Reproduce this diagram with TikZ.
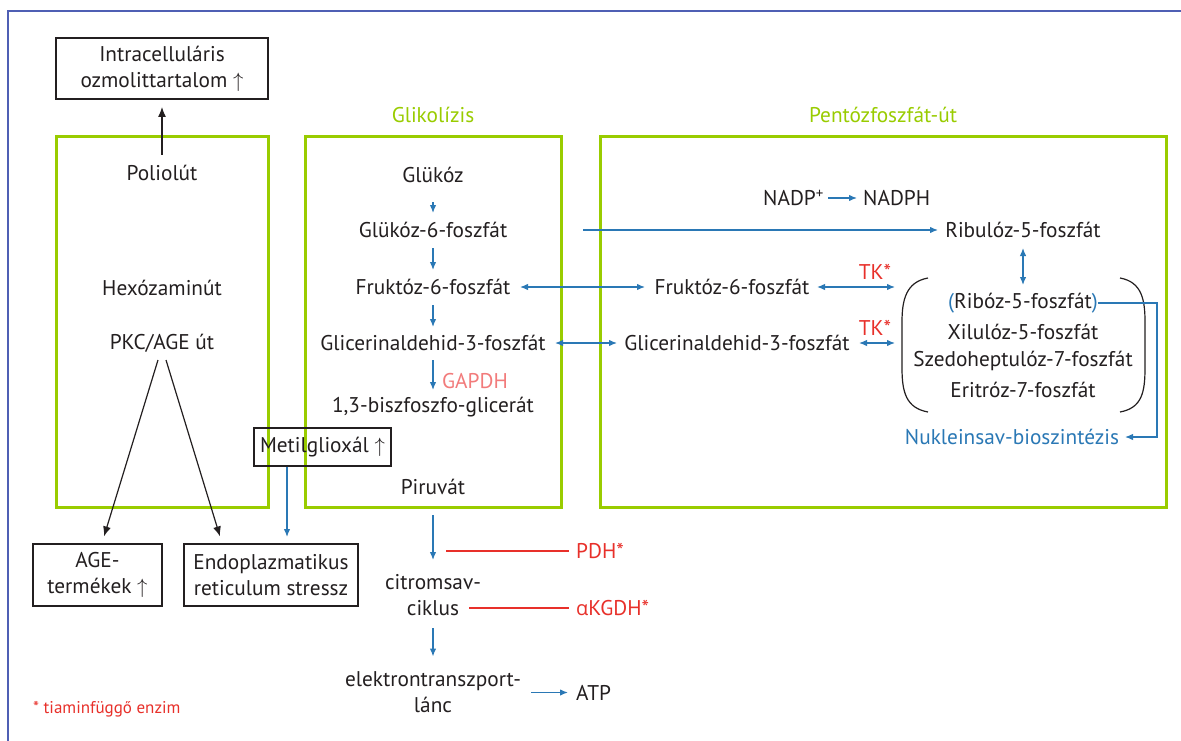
\documentclass[tikz,border=0pt]{standalone}
\usepackage{fontspec}
\setmainfont{PT Sans}
\newfontfamily\grk{Open Sans}
\usetikzlibrary{arrows.meta,calc}
\definecolor{grn}{HTML}{99CC00}
\definecolor{frm}{HTML}{4F5FB4}
\definecolor{blu}{HTML}{2A78B5}
\definecolor{rd}{HTML}{E8302A}
\definecolor{pnk}{HTML}{F27B7B}
\definecolor{ink}{HTML}{231F20}
\begin{document}
\begin{tikzpicture}[x=1pt,y=-1pt,
  txt/.style={inner sep=0pt, font=\fontsize{21.3}{26}\selectfont, text=ink, align=center},
  gtitle/.style={txt, text=grn},
  rtxt/.style={txt, text=rd},
  kbox/.style={txt, draw=ink, line width=1.1pt},
  gbox/.style={draw=grn, line width=3pt},
  barrow/.style={draw=blu, line width=1.3pt, -{Latex[length=8pt,width=6.5pt]}},
  bdarrow/.style={draw=blu, line width=1.3pt, {Latex[length=8pt,width=6.5pt]}-{Latex[length=8pt,width=6.5pt]}},
  karrow/.style={draw=ink, line width=1.2pt, -{Latex[length=10pt,width=8pt]}},
  rline/.style={draw=rd, line width=1.2pt}
]
\useasboundingbox (0,0) rectangle (1181,741);
\fill[white] (0,0) rectangle (1181,741);
% outer frame
\draw[frm, line width=1.6pt] (8,741) -- (8,11) -- (1181,11);

% green boxes
\draw[gbox] (56,137) rectangle (268,507);
\draw[gbox] (305,137) rectangle (561,507);
\draw[gbox] (600,137) rectangle (1166,507);
\node[gtitle] (tglik) at (433,115) {Glikolízis};
\node[gtitle] (tpent) at (883,115) {Pentózfoszfát-út};

% left column
\node[kbox, minimum width=212pt, minimum height=61pt] (intr) at (162,68.5) {Intracelluláris\\ozmolittartalom $\uparrow$};
\node[txt] (pol) at (162,173) {Poliolút};
\node[txt] (hex) at (162,288) {Hexózaminút};
\node[txt] (pkc) at (162,343) {PKC/AGE út};
\node[kbox, minimum width=129pt, minimum height=62pt] (age) at (97.5,575) {AGE-\\termékek $\uparrow$};
\node[kbox, minimum width=174pt, minimum height=62pt] (er) at (271,575) {Endoplazmatikus\\reticulum stressz};
\node[kbox, minimum width=137pt, minimum height=38pt] (met) at (322.5,447) {Metilglioxál $\uparrow$};

\draw[karrow, shorten <=18pt, shorten >=38.5pt] (pol.center) -- (intr.center);
\draw[karrow] ([xshift=-4pt,yshift=-17pt]pkc.center) -- ([xshift=6.5pt,yshift=7pt]age.north);
\draw[karrow] ([xshift=4pt,yshift=-17pt]pkc.center) -- ([xshift=-51pt,yshift=7pt]er.north);
\coordinate (erin) at (287,537);
\draw[barrow] (met.south -| erin) -- (erin);

% glycolysis
\node[txt] (glu) at (433,175) {Glükóz};
\node[txt] (g6p) at (433,230) {Glükóz-6-foszfát};
\node[txt] (f6p) at (433,287) {Fruktóz-6-foszfát};
\node[txt] (gap) at (433,343) {Glicerinaldehid-3-foszfát};
\node[txt, text=pnk, anchor=west] (gapdh) at (442,381) {GAPDH};
\node[txt] (bpg) at (433,407) {1,3-biszfoszfo-glicerát};
\node[txt] (pir) at (433,487) {Piruvát};
\node[txt] (citr) at (433,595) {citromsav-\\ciklus};
\node[txt] (elek) at (433,692.5) {elektrontranszport-\\lánc};
\node[txt, anchor=west] (atp) at (576,692.5) {ATP};
\node[rtxt, anchor=west] (pdh) at (576,551) {PDH*};
\node[rtxt, anchor=west] (akg) at (576,608) {{\grk\fontsize{20}{26}\selectfont α}KGDH*};
\node[rtxt, anchor=west, font=\fontsize{17}{20}\selectfont] (tiam) at (33,709) {* tiaminfüggő enzim};

\draw[barrow, shorten <=27pt, shorten >=17pt] (glu.center) -- (g6p.center);
\draw[barrow, shorten <=18pt, shorten >=17pt] (g6p.center) -- (f6p.center);
\draw[barrow, shorten <=18pt, shorten >=16pt] (f6p.center) -- (gap.center);
\draw[barrow, shorten <=17pt, shorten >=17pt] (gap.center) -- (bpg.center);
\draw[barrow, shorten <=28pt, shorten >=35pt] (pir.center) -- (citr.center);
\draw[barrow, shorten <=33pt, shorten >=36pt] (citr.center) -- (elek.center);
\draw[barrow, shorten <=98pt, shorten >=8pt] (elek.center) -- (atp.west);
\coordinate (pdhc) at (446,551);
\coordinate (akgc) at (469,608);
\draw[rline, shorten >=7pt] (pdhc) -- (pdh.west);
\draw[rline, shorten >=7pt] (akgc) -- (akg.west);

% pentose phosphate
\node[txt, anchor=west] (nadp) at (763,198) {NADP\textsuperscript{+}};
\node[txt, anchor=west] (nadph) at (863,198) {NADPH};
\draw[barrow, shorten <=4pt, shorten >=6pt] (nadp.east) -- (nadph.west);
\node[txt] (rib) at (1023,230) {Ribulóz-5-foszfát};
\node[txt] (f6pr) at (732,287) {Fruktóz-6-foszfát};
\node[txt] (gapr) at (737,343) {Glicerinaldehid-3-foszfát};
\node[txt] (ribo) at (1023,303) {\textcolor{blu}{(}Ribóz-5-foszfát\textcolor{blu}{)}};
\node[txt] (xil) at (1023,332) {Xilulóz-5-foszfát};
\node[txt] (sze) at (1023,361) {Szedoheptulóz-7-foszfát};
\node[txt] (eri) at (1023,390) {Eritróz-7-foszfát};
\node[txt, text=blu] (nukl) at (1012,437) {Nukleinsav-bioszintézis};
\node[rtxt] (tk1) at (875,272) {TK*};
\node[rtxt] (tk2) at (875,328) {TK*};

% brackets
\draw[ink, line width=1.2pt] (928,278) .. controls (906,282) and (902,300) .. (902,322) -- (902,368) .. controls (902,392) and (906,408) .. (928,412);
\draw[ink, line width=1.2pt] (1120,278) .. controls (1142,282) and (1145,300) .. (1145,322) -- (1145,368) .. controls (1145,392) and (1142,408) .. (1120,412);
\coordinate (lbr) at (902,345);

\draw[barrow, shorten <=150pt, shorten >=85pt] (g6p.center) -- (g6p -| rib.center);
\draw[bdarrow, shorten <=87pt, shorten >=87pt] (f6p.center) -- (f6pr.center);
\draw[bdarrow, shorten <=85pt, shorten >=7pt] (f6pr.center) -- (f6pr.center -| lbr);
\draw[bdarrow, shorten <=122pt, shorten >=120pt] (gap.center) -- (gapr.center);
\draw[bdarrow, shorten <=122pt, shorten >=7pt] (gapr.center) -- (gapr.center -| lbr);
\draw[bdarrow, shorten <=18pt, shorten >=18pt] (rib.center) -- (ribo.center);
\coordinate (rc) at (1157,303);
\draw[barrow, shorten >=113pt] (ribo.east) -- (rc) |- (nukl.center);
\end{tikzpicture}
\end{document}
